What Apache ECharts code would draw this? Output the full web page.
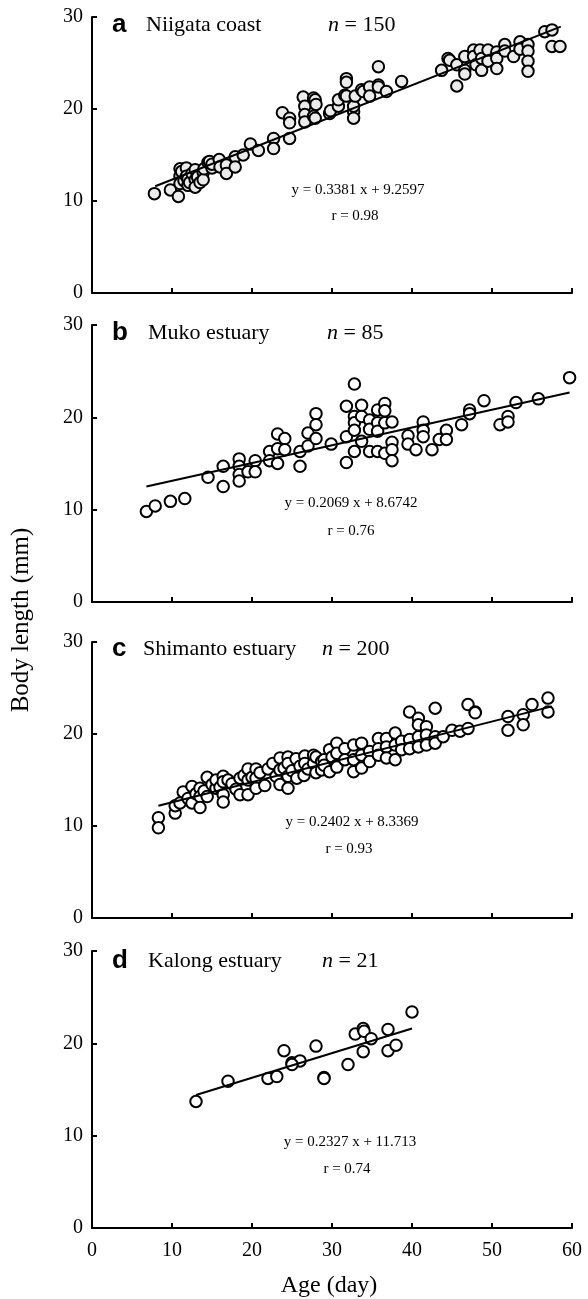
<!DOCTYPE html>
<html>
<head>
<meta charset="utf-8">
<script src="https://cdn.jsdelivr.net/npm/echarts@6/dist/echarts.min.js"></script>
<style>
html,body{margin:0;padding:0;background:#fff;}
#chart{width:588px;height:1299px;}
</style>
</head>
<body>
<div id="chart"></div>
<script>
// ---------- DATA ----------
const xTickValues = [0, 10, 20, 30, 40, 50, 60];
const yTickValues = [0, 10, 20, 30];
const panelLetters = ['a', 'b', 'c', 'd'];
const siteNames = ['Niigata coast', 'Muko estuary', 'Shimanto estuary', 'Kalong estuary'];
const sampleSizes = ['150', '85', '200', '21'];
const equations = ['y = 0.3381 x + 9.2597', 'y = 0.2069 x + 8.6742', 'y = 0.2402 x + 8.3369', 'y = 0.2327 x + 11.713'];
const rValues = ['r = 0.98', 'r = 0.76', 'r = 0.93', 'r = 0.74'];
const xAxisTitle = 'Age (day)';
const yAxisTitle = 'Body length (mm)';

// [age (day), body length (mm)]
const niigataPoints = [
  [7.8,10.8],[9.8,11.2],[10.8,10.5],[11,13.5],[11,12.7],[11,11.9],[11.2,13.2],[11.5,12.2],[11.8,13.6],[11.8,12.7],
  [12,11.7],[12,12.4],[12.2,12.0],[12.5,13.0],[12.9,13.4],[12.9,12.3],[12.9,11.5],[13.2,12.6],[13.5,12.0],[13.9,13.1],
  [13.9,12.3],[14,13.5],[14.5,14.2],[14.7,14.3],[15,13.6],[15,14.0],[15.9,14.5],[16,13.7],[16.8,13.9],[16.8,13.0],
  [17.9,14.8],[17.9,13.7],[18.9,15.0],[19.8,16.2],[20.8,15.5],[22.7,16.8],[22.7,15.7],[23.8,19.6],[24.7,19.0],[24.7,18.5],
  [24.7,16.8],[26.4,21.3],[26.6,20.3],[26.6,19.4],[26.6,18.6],[27.7,21.2],[27.7,19.2],[27.9,21.0],[27.9,19.0],[28,20.5],
  [29.7,19.5],[29.8,19.8],[30.8,20.3],[30.8,21.0],[31.6,21.5],[31.8,23.3],[31.8,22.9],[31.8,21.4],[32.7,19.7],[32.7,19.0],
  [32.7,20.3],[32.9,21.4],[33.7,22.1],[33.9,21.9],[34.7,22.4],[34.7,21.4],[35.8,24.6],[35.8,22.6],[35.8,22.4],[36.8,21.9],
  [38.7,23.0],[43.7,24.2],[44.5,25.5],[44.7,25.3],[45.6,22.5],[45.6,24.8],[46.6,25.7],[46.6,24.2],[46.6,23.8],[47.7,26.4],
  [47.7,25.7],[48.0,24.8],[48.5,26.4],[48.7,25.5],[48.7,24.2],[49.5,26.4],[49.5,25.2],[50.6,26.2],[50.6,25.5],[50.6,24.4],
  [51.6,27.0],[51.6,26.3],[52.7,25.7],[53.5,27.3],[53.5,26.5],[54.5,27.0],[54.5,26.3],[54.5,25.2],[54.5,24.1],[56.6,28.4],
  [57.5,28.6],[57.5,26.8],[58.5,26.8]
];
const mukoPoints = [
  [6.8,9.8],[7.9,10.4],[9.8,10.9],[11.6,11.2],[14.5,13.5],[16.4,14.7],[16.4,12.5],[18.4,15.5],[18.4,14.7],[18.4,13.8],
  [18.4,13.1],[19.5,14.1],[20.4,15.3],[20.4,14.1],[22.2,16.3],[22.2,15.3],[23.2,18.2],[23.2,16.6],[23.2,15.0],[24.1,17.7],
  [24.1,16.5],[26,16.3],[26,14.7],[27,18.3],[27,16.9],[28,20.4],[28,19.2],[28,17.7],[29.9,17.1],[31.8,21.2],
  [31.8,17.9],[31.8,15.1],[32.8,23.6],[32.8,20.1],[32.8,19.4],[32.8,18.6],[32.8,16.3],[33.7,21.3],[33.7,20.1],[33.7,17.4],
  [34.7,19.7],[34.7,18.7],[34.7,16.3],[35.7,20.8],[35.7,19.4],[35.7,18.5],[35.7,16.3],[36.6,21.5],[36.6,20.7],[36.6,19.4],
  [36.6,16.1],[37.5,19.5],[37.5,17.3],[37.5,16.5],[37.5,15.3],[39.5,18.0],[39.5,17.1],[40.5,16.5],[41.4,19.5],[41.4,18.6],
  [41.4,17.9],[42.5,16.5],[43.4,17.6],[44.3,18.6],[44.3,17.6],[46.2,19.2],[47.2,20.8],[47.2,20.4],[49,21.8],[51,19.2],
  [52,20.1],[52,19.5],[53,21.6],[55.8,22.0],[59.7,24.3]
];
const shimantoPoints = [
  [8.3,10.9],[8.3,9.8],[10.4,11.4],[10.4,12.2],[11,12.5],[11.4,13.7],[12,13.0],[12.5,14.3],[12.5,12.5],[13,13.5],
  [13.5,14.1],[13.5,13.2],[13.5,12.0],[14,13.8],[14.4,15.3],[14.4,13.2],[15,14.5],[15.5,14.1],[15.5,15.0],[16,14.2],
  [16.4,15.4],[16.4,14.8],[16.4,13.4],[16.4,12.6],[17,15.0],[17.5,14.6],[18,14.0],[18.5,15.2],[18.5,13.4],[19,15.5],
  [19.5,16.2],[19.5,15.0],[19.5,13.4],[20,15.3],[20.5,16.2],[20.5,15.2],[20.5,14.1],[21,15.8],[21.6,14.4],[22,16.2],
  [22.6,16.8],[23,15.4],[23.5,17.4],[23.5,16.1],[23.5,14.5],[24,16.3],[24.5,17.5],[24.5,16.8],[24.5,15.4],[24.5,14.1],
  [25,16.0],[25.5,17.3],[25.6,15.2],[26,16.5],[26.5,15.5],[26.6,17.6],[26.6,16.8],[27,16.2],[27.7,17.7],[27.7,16.8],
  [28,17.5],[28,15.8],[28.7,17.0],[28.7,16.1],[29,17.2],[29,16.6],[29.7,18.3],[29.7,15.9],[30,17.5],[30.6,19.0],
  [30.6,17.9],[30.6,16.6],[30.6,16.4],[31.6,18.4],[31.6,17.2],[32.7,18.8],[32.7,17.2],[32.7,15.9],[33.7,19.0],[33.7,17.7],
  [33.7,16.3],[34.7,18.1],[34.7,17.0],[35.8,19.5],[35.8,18.4],[35.8,17.7],[36.8,19.5],[36.8,18.6],[36.8,17.4],[37.9,20.1],
  [37.9,18.8],[37.9,17.2],[38.7,19.2],[38.7,18.3],[39.7,22.4],[39.7,19.4],[39.7,18.4],[40.8,21.7],[40.8,21.0],[40.8,19.7],
  [40.8,18.6],[41.8,20.8],[41.8,19.9],[41.8,18.8],[42.9,22.8],[42.9,19.7],[42.9,19.0],[43.9,19.7],[45,20.4],[46,20.3],
  [47,23.2],[47,20.6],[47.9,22.4],[47.9,22.3],[52,21.9],[52,20.4],[53.9,22.1],[53.9,21.0],[55,23.2],[57,23.9],
  [57,22.4]
];
const kalongPoints = [
  [13.0,13.7],[17.0,15.9],[22.0,16.2],[23.1,16.4],[24.0,19.2],[25.0,17.9],[26.0,18.1],[28.0,19.7],[29.0,16.3],[29.0,16.2],
  [32.0,17.7],[32.9,21.0],[33.9,21.6],[34.0,21.3],[33.9,19.1],[34.9,20.5],[37.0,21.5],[37.0,19.2],[38.0,19.8],[40.0,23.4],
  [25.0,17.7]
];
// fitted lines as drawn: [age, length] at both ends
const niigataFit = [[7.9, 11.6], [58.6, 28.95]];
const mukoFit = [[6.8, 12.5], [59.7, 22.7]];
const shimantoFit = [[8.3, 12.2], [57.5, 23.0]];
const kalongFit = [[13.0, 14.4], [40.0, 21.6]];

// ---------- LAYOUT ----------
const SERIF = "'Liberation Serif','Times New Roman',serif";
const SANS = "'Liberation Sans',Arial,sans-serif";
const pointSets = [niigataPoints, mukoPoints, shimantoPoints, kalongPoints];
const fitSets = [niigataFit, mukoFit, shimantoFit, kalongFit];
const fills = ['#ebebeb', '#ffffff', '#ffffff', '#ffffff'];
const gridTops = [17, 325, 642, 951];
const gridHeights = [276, 277, 276, 277];
const titleY = [25, 333, 649, 961];
const nameX = [146, 148, 143, 148];
const nX = [328, 327, 322, 322];
const eqPos = [[358, 190], [351, 503], [352, 822], [350, 1142]];
const rPos = [[355, 216], [351, 531], [349, 849], [347, 1169]];

const grids = [], xAxes = [], yAxes = [], series = [], graphics = [];
for (let i = 0; i < 4; i++) {
  grids.push({left: 92, width: 480, top: gridTops[i], height: gridHeights[i]});
  xAxes.push({
    type: 'value', gridIndex: i, min: xTickValues[0], max: xTickValues[xTickValues.length - 1], interval: 10,
    axisLine: {lineStyle: {color: '#000', width: 2}},
    axisTick: {inside: true, length: 5, lineStyle: {color: '#000', width: 2}},
    axisLabel: {show: i === 3, color: '#000', fontFamily: SERIF, fontSize: 20, margin: 13},
    splitLine: {show: false}
  });
  yAxes.push({
    type: 'value', gridIndex: i, min: yTickValues[0], max: yTickValues[yTickValues.length - 1], interval: 10,
    axisLine: {show: true, lineStyle: {color: '#000', width: 2}},
    axisTick: {show: true, inside: true, length: 5, lineStyle: {color: '#000', width: 2}},
    axisLabel: {color: '#000', fontFamily: SERIF, fontSize: 20, margin: 9},
    splitLine: {show: false}
  });
  series.push({
    type: 'scatter', xAxisIndex: i, yAxisIndex: i, data: pointSets[i],
    symbol: 'circle', symbolSize: 11.5, z: 2,
    itemStyle: {color: fills[i], borderColor: '#000', borderWidth: 2, opacity: 1}
  });
  series.push({
    type: 'line', xAxisIndex: i, yAxisIndex: i, data: fitSets[i],
    symbol: 'none', z: 3, lineStyle: {color: '#000', width: 2}
  });
  const mid = 'middle';
  graphics.push({type: 'text', x: 112, y: titleY[i], style: {text: panelLetters[i], font: 'bold 26px ' + SANS, fill: '#000', textAlign: 'left', align: 'left', textVerticalAlign: mid, verticalAlign: mid}});
  graphics.push({type: 'text', x: nameX[i], y: titleY[i], style: {text: siteNames[i], font: '22px ' + SERIF, fill: '#000', textAlign: 'left', align: 'left', textVerticalAlign: mid, verticalAlign: mid}});
  graphics.push({type: 'text', x: nX[i], y: titleY[i], style: {text: 'n', font: 'italic 22px ' + SERIF, fill: '#000', textAlign: 'left', align: 'left', textVerticalAlign: mid, verticalAlign: mid}});
  graphics.push({type: 'text', x: nX[i] + 11, y: titleY[i], style: {text: ' = ' + sampleSizes[i], font: '22px ' + SERIF, fill: '#000', textAlign: 'left', align: 'left', textVerticalAlign: mid, verticalAlign: mid}});
  graphics.push({type: 'text', x: eqPos[i][0], y: eqPos[i][1], style: {text: equations[i], font: '15px ' + SERIF, fill: '#000', textAlign: 'center', align: 'center', textVerticalAlign: mid, verticalAlign: mid}});
  graphics.push({type: 'text', x: rPos[i][0], y: rPos[i][1], style: {text: rValues[i], font: '15px ' + SERIF, fill: '#000', textAlign: 'center', align: 'center', textVerticalAlign: mid, verticalAlign: mid}});
}
graphics.push({type: 'text', x: 21, y: 620, rotation: Math.PI / 2, style: {text: yAxisTitle, font: '25px ' + SERIF, fill: '#000', textAlign: 'center', align: 'center', textVerticalAlign: 'middle', verticalAlign: 'middle'}});
graphics.push({type: 'text', x: 329, y: 1286, style: {text: xAxisTitle, font: '24px ' + SERIF, fill: '#000', textAlign: 'center', align: 'center', textVerticalAlign: 'middle', verticalAlign: 'middle'}});

const chart = echarts.init(document.getElementById('chart'), null, {renderer: 'canvas'});
chart.setOption({
  animation: false,
  backgroundColor: '#fff',
  grid: grids, xAxis: xAxes, yAxis: yAxes, series: series, graphic: graphics
});
</script>
</body>
</html>
